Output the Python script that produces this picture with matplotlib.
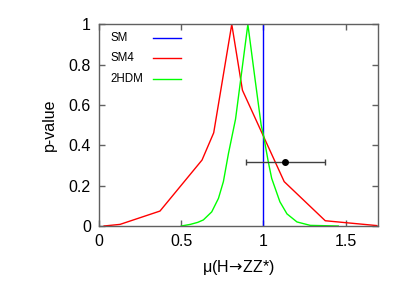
import matplotlib
matplotlib.use("Agg")
import matplotlib.pyplot as plt

plt.rcParams['font.family'] = ['Liberation Sans', 'DejaVu Sans']

# SM4 p-value curve (piecewise linear)
sm4_mu = [0.03, 0.127, 0.37, 0.626, 0.697, 0.807, 0.872, 1.126, 1.376, 1.69]
sm4_p = [0.0, 0.008, 0.074, 0.327, 0.462, 1.0, 0.673, 0.22, 0.026, 0.002]

# 2HDM p-value curve
thdm_mu = [0.50, 0.555, 0.60, 0.634, 0.685, 0.726, 0.756, 0.787, 0.83, 0.905,
           0.95, 0.986, 1.0, 1.03, 1.05, 1.10, 1.143, 1.204, 1.285, 1.455]
thdm_p = [0.0, 0.008, 0.018, 0.03, 0.07, 0.137, 0.22, 0.36, 0.53, 1.0,
          0.72, 0.5, 0.45, 0.315, 0.236, 0.12, 0.06, 0.02, 0.003, 0.0]

# SM prediction
sm_mu = 1.0

# measured signal strength
meas_mu = 1.13
meas_lo = 0.893
meas_hi = 1.372
meas_y = 0.315

legend_labels = ['SM', 'SM4', '2HDM']
legend_colors = ['#0000ff', '#ff0000', '#00ff00']

fig = plt.figure(figsize=(4.15, 2.91), dpi=100)
ax = fig.add_axes([0.239, 0.2234, 0.673, 0.6931])

ax.plot([sm_mu, sm_mu], [0, 1], color='#0000ff', lw=1)
ax.plot(sm4_mu, sm4_p, color='#ff0000', lw=1)
ax.plot(thdm_mu, thdm_p, color='#00ff00', lw=1)

ax.errorbar([meas_mu], [meas_y], xerr=[[meas_mu - meas_lo], [meas_hi - meas_mu]],
            fmt='o', color='black', ecolor='#404040', elinewidth=1,
            markersize=4, capsize=2.5, capthick=1)

# legend drawn by hand: text on the left, line sample on the right
for i, (lab, col) in enumerate(zip(legend_labels, legend_colors)):
    yy = 0.934 - i * 0.1015
    ax.text(0.041, yy, lab, transform=ax.transAxes, fontsize=8.3,
            ha='left', va='center')
    ax.plot([0.194, 0.292], [yy, yy], transform=ax.transAxes, color=col, lw=1)

ax.set_xlim(0, 1.7)
ax.set_ylim(0, 1)
ax.set_xticks([0, 0.5, 1, 1.5])
ax.set_xticklabels(['0', '0.5', '1', '1.5'])
ax.set_yticks([0, 0.2, 0.4, 0.6, 0.8, 1])
ax.set_yticklabels(['0', '0.2', '0.4', '0.6', '0.8', '1'])
ax.tick_params(direction='in', top=True, right=True, length=4, width=1,
               color='#606060', labelsize=11.5, pad=6)
for s in ax.spines.values():
    s.set_color('#606060')
    s.set_linewidth(1)

ax.set_xlabel(r'μ(H$\!\rightarrow\!$ZZ*)', fontsize=11.5, labelpad=6)
ax.set_ylabel('p-value', fontsize=11.5, labelpad=8)

fig.savefig('out.png', dpi=100)
